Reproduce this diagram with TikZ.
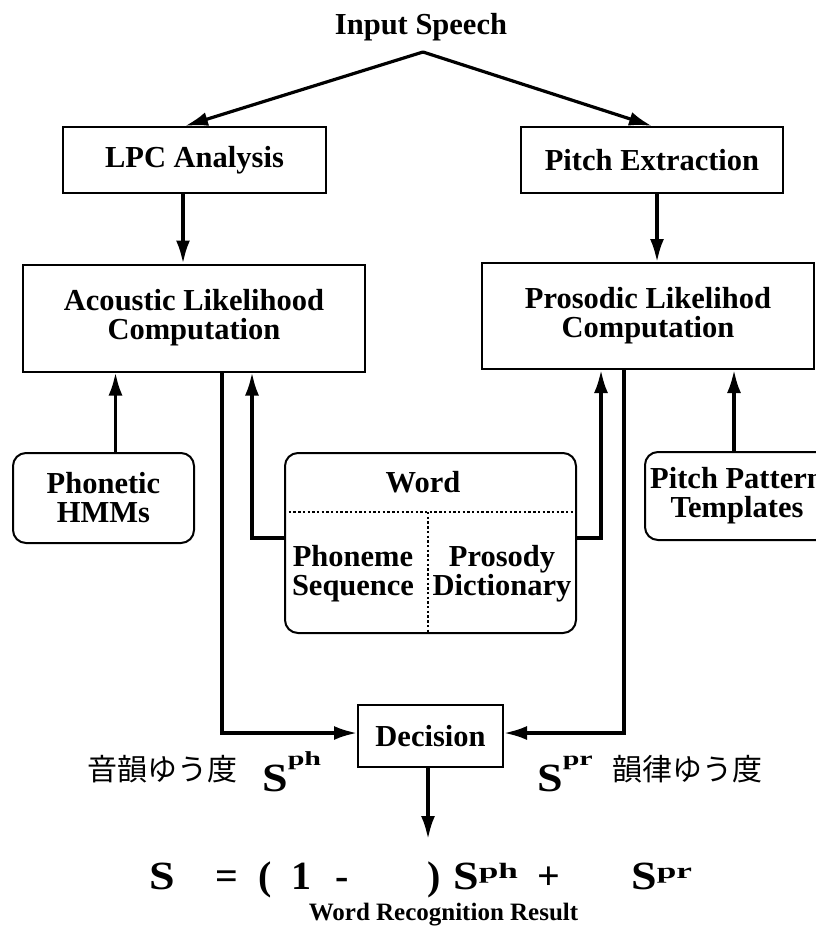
\documentclass[tikz,border=0pt]{standalone}
\usepackage{fontspec}
\usepackage{graphicx}
\setmainfont{Liberation Serif}
\newfontfamily\jpfont{Noto Sans CJK JP}
\usetikzlibrary{arrows.meta,positioning}

\newcommand{\blockfont}{\fontsize{30.5}{29}\selectfont\bfseries}
\newcommand{\labscore}[1]{{\fontsize{40}{40}\selectfont\bfseries\scalebox{1.15}[1]{S}}%
  \raisebox{26pt}{\fontsize{20}{20}\selectfont\bfseries\scalebox{1.5}[1]{#1}}}
\newcommand{\frmscore}[1]{{\fontsize{40}{40}\selectfont\bfseries\scalebox{1.15}[1]{S}}%
  \raisebox{11pt}{\fontsize{22}{22}\selectfont\bfseries\scalebox{1.6}[1]{#1}}}

\begin{document}
\begin{tikzpicture}
  [x=1pt,y=-1pt,
  box/.style={draw,line width=2pt,inner sep=0pt,align=center,font=\blockfont},
  roundbox/.style={box,rounded corners=13pt},
  arr/.style={line width=3.2pt,-{Latex[length=23pt,width=14pt]}},
  sep/.style={line width=2.4pt,dash pattern=on 2.4pt off 2.3pt},
  frm/.style={anchor=base west,inner sep=0pt,font=\fontsize{40}{40}\selectfont\bfseries},
  jp/.style={inner sep=0pt,font=\jpfont\fontsize{30}{30}\selectfont}]
  \clip (0,0) rectangle (816,934);

  % input and front end
  \node[font=\blockfont] (speech) at (421,27) {Input Speech};
  \coordinate (split) at (423,52);
  \node[box,minimum width=263pt,minimum height=66pt] (lpc) at (194.5,160) {LPC Analysis};
  \node[box,minimum width=262pt,minimum height=66pt] (pitch) at (652,160) {Pitch Extraction};

  % likelihood computation
  \node[box,minimum width=342pt,minimum height=107pt] (acoustic) at (194,318)
    {Acoustic Likelihood\\Computation};
  \node[box,minimum width=332pt,minimum height=106pt] (prosodic) at (648,316)
    {Prosodic Likelihod\\Computation};

  % knowledge sources
  \node[roundbox,minimum width=181pt,minimum height=90pt] (phonetic) at (103.5,498)
    {Phonetic\\HMMs};
  \node[roundbox,minimum width=184pt,minimum height=88pt] (templates) at (737,496)
    {Pitch Pattern\\Templates};
  \node[roundbox,minimum width=291pt,minimum height=180pt] (word) at (430.5,543) {};
  \node[font=\blockfont] (wordtitle) at (423,482) {Word};
  \node[font=\blockfont,align=center] (phoneme) at (353,574) {Phoneme\\Sequence};
  \node[font=\blockfont,align=center] (prosody) at (502,574) {Prosody\\Dictionary};
  \coordinate (wsplit) at (428,512);
  \draw[sep] (word.west |- wsplit) -- (word.east |- wsplit);
  \draw[sep] (wsplit) -- (wsplit |- word.south);

  % decision
  \node[box,minimum width=145pt,minimum height=62pt] (decision) at (430.5,736) {Decision};
  \coordinate (result) at (430.5,839);

  % connectors
  \draw[arr] (split) -- ([xshift=-9.5pt]lpc.north);
  \draw[arr] (split) -- (pitch.north);
  \draw[arr] ([xshift=-11.5pt]lpc.south) -- ([xshift=-11.5pt]lpc.south |- acoustic.north);
  \draw[arr] ([xshift=5pt]pitch.south) -- ([xshift=5pt]pitch.south |- prosodic.north);
  \draw[arr] ([xshift=12pt]phonetic.north) -- ([xshift=12pt]phonetic.north |- acoustic.south);
  \draw[arr] ([xshift=-3pt]templates.north) -- ([xshift=-3pt]templates.north |- prosodic.south);
  \draw[arr] ([yshift=5pt]word.west) -| ([xshift=58pt]acoustic.south);
  \draw[arr] ([yshift=5pt]word.east) -| ([xshift=-47pt]prosodic.south);
  \draw[arr] ([xshift=28pt]acoustic.south) |- ([yshift=3pt]decision.west);
  \draw[arr] ([xshift=-24pt]prosodic.south) |- ([yshift=3pt]decision.east);
  \draw[arr] ([xshift=-2.5pt]decision.south) -- ([xshift=-2.5pt]result);

  % scores
  \node[jp] (phlabel) at (162,769) {音韻ゆう度};
  \node[anchor=base west,inner sep=0pt] (phscore) at (262,791) {\labscore{ph}};
  \node[anchor=base west,inner sep=0pt] (prscore) at (537,791) {\labscore{pr}};
  \node[jp] (prlabel) at (687,769) {韻律ゆう度};

  % combined score
  \node[frm] (fs) at (149,889) {\scalebox{1.15}[1]{S}};
  \node[frm] (feq) at (215,889) {=};
  \node[frm] (fopen) at (258,889) {(};
  \node[frm] (fone) at (291,889) {1};
  \node[frm] (fminus) at (335,889) {-};
  \node[frm] (fclose) at (427,889) {)};
  \node[frm] (fph) at (453,889) {\frmscore{ph}};
  \node[frm] (fplus) at (537,889) {+};
  \node[frm] (fpr) at (631,889) {\frmscore{pr}};
  \node[font=\fontsize{25}{25}\selectfont\bfseries,anchor=base] (outcome) at (443.5,920)
    {Word Recognition Result};
\end{tikzpicture}
\end{document}
